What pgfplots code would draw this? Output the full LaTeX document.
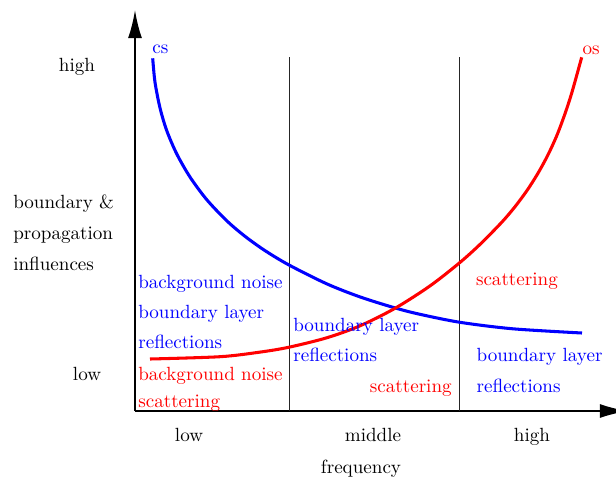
\documentclass[border=0pt]{standalone}
\usepackage{pgfplots}
\pgfplotsset{compat=1.18}
\usetikzlibrary{arrows.meta}
\tikzset{lbl/.style={inner sep=0pt, outer sep=0pt}}
\begin{document}
\begin{tikzpicture}
\begin{axis}[
  x=0.524pt, y=0.524pt,
  xmin=0, xmax=493, ymin=0, ymax=401,
  enlargelimits=false,
  axis lines=left,
  axis line style={line width=1pt, -{Latex[length=14.7pt,width=7.3pt]}},
  xtick={54,238,397},
  xticklabels={low,middle,high},
  ytick=\empty,
  major tick length=0pt,
  xticklabel style={anchor=base, inner sep=0pt, yshift=-16.1pt},
  clip=false,
]
% vertical separators
\addplot[black!85, line width=0.5pt] coordinates {(154,0) (154,354)};
\addplot[black!85, line width=0.5pt] coordinates {(324,0) (324,354)};
% cs curve
\addplot[blue, line width=1.6pt, smooth] coordinates {
(17.7,352.7) (20,328.8) (25,303.1) (31.7,280.5) (41.7,257.2) (55,234)
(71.7,211.4) (91.7,190.3) (110,174.7) (130,160.4) (154,146) (191.7,127.2)
(225,114.1) (260,103.1) (285,96.7) (325,88.7) (378,82.2) (447,78)};
% os curve
\addplot[red, line width=1.6pt, smooth] coordinates {
(15,52) (85,54.3) (125,58.9) (154,63.8) (191.7,73.2) (225,85.2) (260,102.7)
(295,125.1) (324.3,148) (345,166.6) (366.7,188.7) (380,204.3) (392,220.5)
(403,237.8) (413,256.2) (422,275.9) (430,297.3) (437,318.9) (446.7,353.7)};
% curve labels
\node[lbl, blue, anchor=base west] at (axis cs:17.3,357.7) {cs};
\node[lbl, red, anchor=base west] at (axis cs:447.7,357) {os};
% low region
\node[lbl, blue, anchor=base west] at (axis cs:3.3,122.7) {background noise};
\node[lbl, blue, anchor=base west] at (axis cs:3.3,92.7) {boundary layer};
\node[lbl, blue, anchor=base west] at (axis cs:3.3,62.7) {reflections};
\node[lbl, red, anchor=base west] at (axis cs:3.3,31) {background noise};
\node[lbl, red, anchor=base west] at (axis cs:3.3,3.5) {scattering};
% middle region
\node[lbl, blue, anchor=base west] at (axis cs:158.3,80) {boundary layer};
\node[lbl, blue, anchor=base west] at (axis cs:158.3,49.3) {reflections};
\node[lbl, red, anchor=base east] at (axis cs:316.7,18.7) {scattering};
% high region
\node[lbl, red, anchor=base west] at (axis cs:341,126) {scattering};
\node[lbl, blue, anchor=base west] at (axis cs:341.7,49.3) {boundary layer};
\node[lbl, blue, anchor=base west] at (axis cs:341.7,18.7) {reflections};
% y labels
\node[lbl, anchor=base] at (axis cs:-58,339.3) {high};
\node[lbl, anchor=base] at (axis cs:-48,31) {low};
\node[lbl, anchor=base west] at (axis cs:-121.7,202.7) {boundary \&};
\node[lbl, anchor=base west] at (axis cs:-121.7,171.7) {propagation};
\node[lbl, anchor=base west] at (axis cs:-121.7,141) {influences};
% x label
\node[lbl, anchor=base] at (axis cs:226,-62.3) {frequency};
% bounding box corners
\coordinate (bbl) at (axis cs:-135,-66);
\coordinate (btr) at (axis cs:481,411);
\end{axis}
\pgfresetboundingbox
\useasboundingbox (bbl) rectangle (btr);
\end{tikzpicture}
\end{document}
